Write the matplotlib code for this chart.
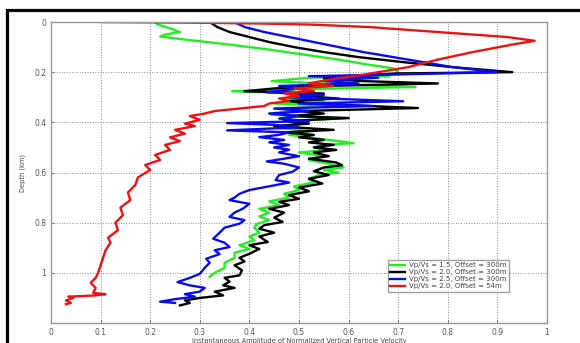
import matplotlib
matplotlib.use("Agg")
import matplotlib.pyplot as plt
from matplotlib.patches import Rectangle

# depth (km) and amplitude values
green_depth = [0, 0.01, 0.025, 0.04, 0.05, 0.058, 0.07, 0.09, 0.11, 0.13, 0.15, 0.17, 0.185, 0.20,
               0.216, 0.222, 0.236, 0.245, 0.259, 0.268, 0.276, 0.285, 0.295, 0.305, 0.315, 0.325,
               0.335, 0.345, 0.355, 0.365, 0.37, 0.383, 0.395, 0.41, 0.42, 0.435, 0.45, 0.46, 0.47,
               0.483, 0.49, 0.50, 0.51, 0.52, 0.535, 0.55, 0.565, 0.58, 0.59, 0.60, 0.61, 0.625,
               0.64, 0.655, 0.67, 0.685, 0.70, 0.715, 0.73, 0.745, 0.76, 0.775, 0.79, 0.805, 0.82,
               0.84, 0.855, 0.87, 0.89, 0.905, 0.92, 0.94, 0.96, 0.98, 1.00, 1.015]
green_amp = [0.21, 0.215, 0.24, 0.26, 0.23, 0.22, 0.27, 0.36, 0.44, 0.51, 0.58, 0.64, 0.69, 0.70,
             0.68, 0.52, 0.445, 0.55, 0.735, 0.50, 0.365, 0.50, 0.55, 0.47, 0.55, 0.45,
             0.58, 0.46, 0.50, 0.44, 0.445, 0.595, 0.48, 0.50, 0.45, 0.52, 0.48, 0.52, 0.56,
             0.61, 0.55, 0.53, 0.56, 0.50, 0.55, 0.52, 0.56, 0.59, 0.55, 0.58, 0.54, 0.52,
             0.53, 0.49, 0.50, 0.47, 0.48, 0.44, 0.46, 0.42, 0.44, 0.42, 0.44, 0.415, 0.41,
             0.42, 0.40, 0.41, 0.38, 0.40, 0.37, 0.37, 0.35, 0.35, 0.33, 0.32]

black_depth = [0, 0.02, 0.04, 0.06, 0.08, 0.10, 0.12, 0.14, 0.16, 0.18, 0.20, 0.205, 0.215, 0.225,
               0.235, 0.245, 0.255, 0.265, 0.276, 0.285, 0.295, 0.305, 0.315, 0.325, 0.343, 0.355,
               0.365, 0.375, 0.383, 0.395, 0.405, 0.415, 0.43, 0.44, 0.45, 0.46, 0.47, 0.48, 0.49,
               0.50, 0.51, 0.52, 0.535, 0.545, 0.56, 0.571, 0.58, 0.595, 0.61, 0.625, 0.644, 0.66,
               0.675, 0.69, 0.705, 0.717, 0.73, 0.745, 0.76, 0.78, 0.797, 0.81, 0.824, 0.84, 0.855,
               0.877, 0.89, 0.905, 0.924, 0.94, 0.955, 0.97, 0.99, 1.01, 1.02, 1.035, 1.05, 1.06,
               1.075, 1.09, 1.10, 1.11, 1.12, 1.13]
black_amp = [0.32, 0.335, 0.36, 0.40, 0.44, 0.49, 0.55, 0.62, 0.71, 0.81, 0.93, 0.70, 0.60, 0.55,
             0.62, 0.78, 0.55, 0.45, 0.39, 0.55, 0.50, 0.58, 0.48, 0.52, 0.74, 0.50,
             0.55, 0.48, 0.60, 0.47, 0.52, 0.45, 0.57, 0.47, 0.53, 0.50, 0.55, 0.52, 0.57,
             0.53, 0.575, 0.53, 0.56, 0.52, 0.575, 0.587, 0.55, 0.53, 0.56, 0.52, 0.547, 0.50,
             0.52, 0.48, 0.50, 0.46, 0.48, 0.44, 0.47, 0.45, 0.467, 0.43, 0.42, 0.45, 0.42,
             0.437, 0.40, 0.42, 0.40, 0.38, 0.39, 0.37, 0.385, 0.38, 0.35, 0.36, 0.347, 0.37,
             0.33, 0.347, 0.30, 0.27, 0.28, 0.26]

blue_depth = [0, 0.02, 0.04, 0.06, 0.08, 0.10, 0.12, 0.14, 0.16, 0.18, 0.20, 0.21, 0.216, 0.222,
              0.235, 0.245, 0.255, 0.265, 0.28, 0.29, 0.30, 0.316, 0.325, 0.335, 0.345, 0.355,
              0.365, 0.375, 0.385, 0.395, 0.403, 0.41, 0.42, 0.432, 0.44, 0.45, 0.459, 0.47, 0.48,
              0.49, 0.50, 0.509, 0.52, 0.535, 0.545, 0.556, 0.565, 0.58, 0.597, 0.61, 0.63, 0.64,
              0.655, 0.67, 0.685, 0.70, 0.71, 0.725, 0.744, 0.76, 0.777, 0.79, 0.804, 0.82, 0.84,
              0.864, 0.88, 0.897, 0.91, 0.925, 0.944, 0.96, 0.98, 1.004, 1.02, 1.037, 1.05, 1.06,
              1.075, 1.085, 1.095, 1.105, 1.115, 1.12]
blue_amp = [0.37, 0.39, 0.43, 0.48, 0.53, 0.58, 0.63, 0.69, 0.75, 0.81, 0.90, 0.68, 0.52, 0.66,
            0.55, 0.62, 0.46, 0.50, 0.435, 0.55, 0.48, 0.71, 0.50, 0.65, 0.45, 0.52,
            0.44, 0.50, 0.46, 0.52, 0.355, 0.45, 0.50, 0.355, 0.48, 0.46, 0.42, 0.47, 0.44,
            0.48, 0.45, 0.48, 0.46, 0.50, 0.47, 0.435, 0.47, 0.50, 0.487, 0.46, 0.453, 0.48,
            0.44, 0.40, 0.38, 0.37, 0.36, 0.40, 0.387, 0.37, 0.36, 0.39, 0.38, 0.35, 0.34,
            0.327, 0.35, 0.36, 0.33, 0.34, 0.313, 0.32, 0.31, 0.30, 0.28, 0.255, 0.28, 0.31,
            0.30, 0.27, 0.29, 0.25, 0.22, 0.25]

red_depth = [0, 0.003, 0.006, 0.01, 0.02, 0.04, 0.06, 0.075, 0.09, 0.12, 0.15, 0.18, 0.21, 0.23,
             0.245, 0.255, 0.265, 0.275, 0.285, 0.295, 0.305, 0.315, 0.325, 0.335, 0.345, 0.355,
             0.365, 0.375, 0.39, 0.405, 0.415, 0.43, 0.445, 0.46, 0.475, 0.49, 0.51, 0.53, 0.55,
             0.57, 0.59, 0.62, 0.65, 0.68, 0.71, 0.74, 0.77, 0.80, 0.83, 0.86, 0.88, 0.91, 0.94,
             0.97, 1.00, 1.02, 1.04, 1.06, 1.08, 1.085, 1.09, 1.095, 1.10, 1.11, 1.12, 1.125]
red_amp = [0.10, 0.30, 0.42, 0.52, 0.64, 0.78, 0.92, 0.975, 0.93, 0.85, 0.78, 0.72, 0.63, 0.56,
           0.52, 0.57, 0.49, 0.53, 0.47, 0.50, 0.46, 0.48, 0.44, 0.43, 0.38, 0.33, 0.31, 0.28,
           0.30, 0.27, 0.29, 0.25, 0.27, 0.24, 0.26, 0.23, 0.24, 0.21, 0.22, 0.19, 0.20, 0.175,
           0.17, 0.155, 0.16, 0.14, 0.145, 0.13, 0.135, 0.115, 0.12, 0.11, 0.105, 0.10, 0.095,
           0.09, 0.08, 0.09, 0.085, 0.11, 0.09, 0.035, 0.045, 0.03, 0.04, 0.03]

labels = ["Vp/Vs = 1.5, Offset = 300m", "Vp/Vs = 2.0, Offset = 300m",
          "Vp/Vs = 2.5, Offset = 300m", "Vp/Vs = 2.0, Offset = 54m"]
x_ticks = [0, 0.1, 0.2, 0.3, 0.4, 0.5, 0.6, 0.7, 0.8, 0.9, 1]
x_tick_labels = ["0", "0.1", "0.2", "0.3", "0.4", "0.5", "0.6", "0.7", "0.8", "0.9", "1"]
y_ticks = [0, 0.2, 0.4, 0.6, 0.8, 1]
y_tick_labels = ["0", "0.2", "0.4", "0.6", "0.8", "1"]

fig = plt.figure(figsize=(5.8, 3.43), dpi=100)
ax = fig.add_axes([51/580, 1 - 323/343, 496/580, 301/343])

ax.plot(green_amp, green_depth, color="#22ee22", lw=1.7, label=labels[0])
ax.plot(black_amp, black_depth, color="black", lw=1.7, label=labels[1])
ax.plot(blue_amp, blue_depth, color="#0a0aee", lw=1.7, label=labels[2])
ax.plot(red_amp, red_depth, color="#ee1111", lw=1.7, label=labels[3])

ax.set_xlim(0, 1)
ax.set_ylim(1.2, 0)
ax.set_xticks(x_ticks)
ax.set_xticklabels(x_tick_labels)
ax.set_yticks(y_ticks)
ax.set_yticklabels(y_tick_labels)
ax.tick_params(labelsize=5.5, colors="#555555", direction="in", length=2, width=0.5)
ax.grid(True, linestyle=":", color="#888888", linewidth=0.7)
for s in ax.spines.values():
    s.set_color("#999999")
    s.set_linewidth(1)

ax.set_xlabel("Instantaneous Amplitude of Normalized Vertical Particle Velocity",
              fontsize=4.8, color="#444444", labelpad=1)
ax.set_ylabel("Depth (km)", fontsize=4.8, color="#444444", labelpad=6)

leg = ax.legend(loc="lower right", bbox_to_anchor=(0.93, 0.093), fontsize=5,
                frameon=True, fancybox=False, handlelength=2.2, borderpad=0.3,
                labelspacing=0.15, handletextpad=0.6)
leg.get_frame().set_edgecolor("#888888")
leg.get_frame().set_linewidth(1)
for t in leg.get_texts():
    t.set_color("#444444")

# black frame, cut off at right and bottom like the picture
fig.patches.append(Rectangle((7/580, -0.2), 1.3, 1.2 - 10/343, transform=fig.transFigure,
                             fill=False, edgecolor="black", linewidth=2.3))

fig.savefig("out.png", dpi=100)
